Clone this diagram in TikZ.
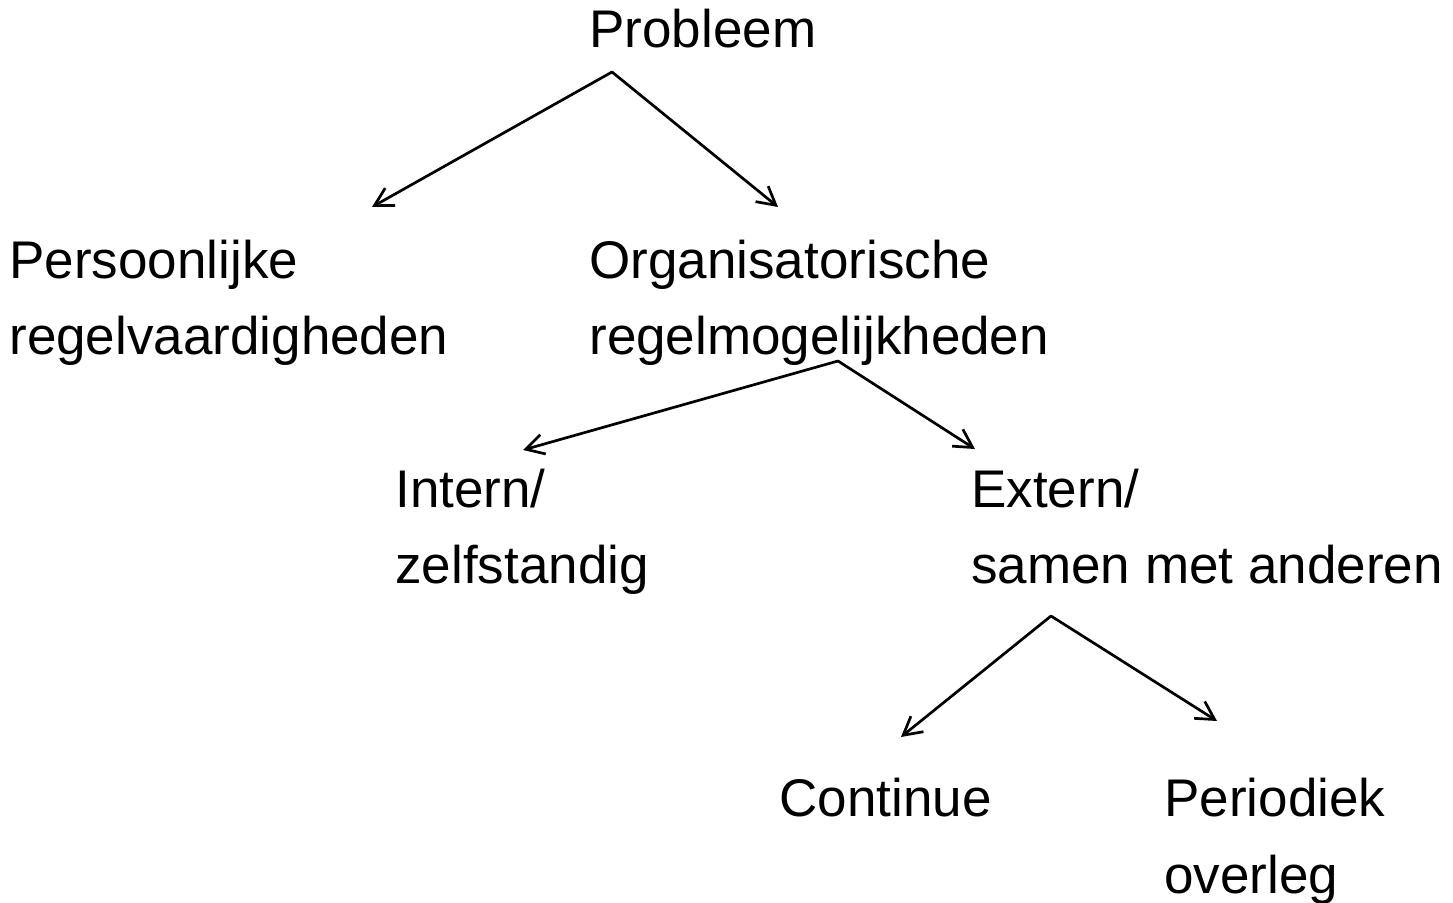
\documentclass[tikz,border=0pt]{standalone}
\usepackage{fontspec}
\setmainfont{Liberation Sans}
\usetikzlibrary{arrows.meta}
\begin{document}
\begin{tikzpicture}[x=0.5pt,y=-0.5pt,
  lbl/.style={anchor=base west, inner sep=0pt, align=left,
    font=\fontsize{26.5}{38.3}\selectfont},
  link/.style={line width=1.35pt, line cap=round, line join=round,
    -{Straight Barb[length=9pt,width=10pt,line width=1.35pt]}}]
\useasboundingbox (0,0) rectangle (1453,903);

% labels (anchored at the baseline of their last line)
\node[lbl] (prob) at (589,48)  {Probleem};
\node[lbl] (pers) at (9,355)   {Persoonlijke\\regelvaardigheden};
\node[lbl] (org)  at (589,355) {Organisatorische\\regelmogelijkheden};
\node[lbl] (int)  at (395,584) {Intern/\\zelfstandig};
\node[lbl] (ext)  at (971,584) {Extern/\\samen met anderen};
\node[lbl] (cont) at (779,817) {Continue};
\node[lbl] (per)  at (1164,893) {Periodiek\\overleg};

% branch points and arrow tips
\coordinate (probB) at (612,72);
\coordinate (persT) at (372,207);
\coordinate (orgT)  at (778,207);
\coordinate (orgB)  at (838,361);
\coordinate (intT)  at (523,450);
\coordinate (extT)  at (975,449);
\coordinate (extB)  at (1051,616);
\coordinate (contT) at (901,737);
\coordinate (perT)  at (1217,721);

\draw[link] (probB) -- (persT);
\draw[link] (probB) -- (orgT);
\draw[link] (orgB) -- (intT);
\draw[link] (orgB) -- (extT);
\draw[link] (extB) -- (contT);
\draw[link] (extB) -- (perT);
\end{tikzpicture}
\end{document}
